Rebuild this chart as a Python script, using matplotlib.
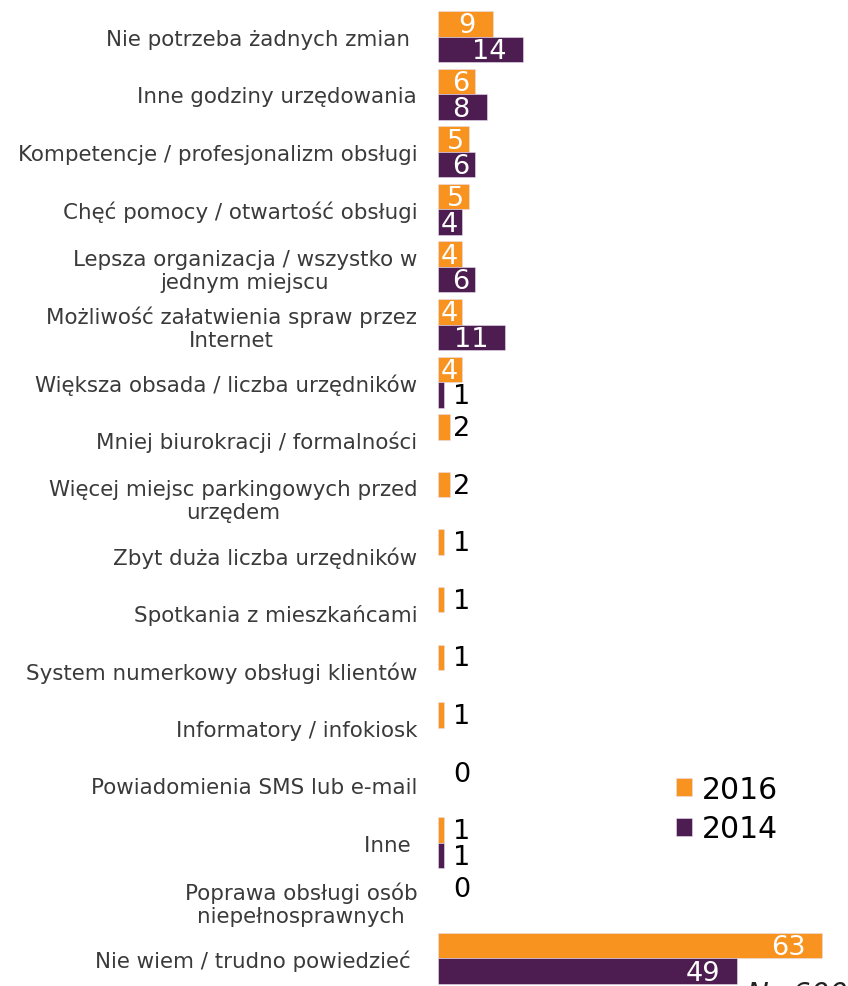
import matplotlib.pyplot as plt
import numpy as np

# ==================================================
# data

categories = [
    "Nie potrzeba żadnych zmian ",
    "Inne godziny urzędowania",
    "Kompetencje / profesjonalizm obsługi",
    "Chęć pomocy / otwartość obsługi",
    "Lepsza organizacja / wszystko w\njednym miejscu",
    "Możliwość załatwienia spraw przez\nInternet",
    "Większa obsada / liczba urzędników",
    "Mniej biurokracji / formalności",
    "Więcej miejsc parkingowych przed\nurzędem",
    "Zbyt duża liczba urzędników",
    "Spotkania z mieszkańcami",
    "System numerkowy obsługi klientów",
    "Informatory / infokiosk",
    "Powiadomienia SMS lub e-mail",
    "Inne ",
    "Poprawa obsługi osób\nniepełnosprawnych",
    "Nie wiem / trudno powiedzieć ",
]
nan = np.nan
values_2016 = [9, 6, 5, 5, 4, 4, 4, 2, 2, 1, 1, 1, 1, 0, 1, 0, 63]
values_2014 = [14, 8, 6, 4, 6, 11, 1, nan, nan, nan, nan, nan, nan, nan, 1, nan, 49]
series_names = ["2016", "2014"]
note = "N=600"

# ==================================================

ORANGE = "#F7931E"
PURPLE = "#4D1D52"
W, H = 848, 987
PX_PER_UNIT = 6.1
PITCH = 57.6
BAR_H = 0.443

fig = plt.figure(figsize=(W / 100, H / 100), dpi=100)
ax = fig.add_axes([438 / W, 0, 1 - 438 / W, 1])

n = len(categories)
y = np.arange(n)
ax.set_xlim(0, (W - 438) / PX_PER_UNIT)
ax.set_ylim((H - 37.5) / PITCH, -37.5 / PITCH)

bars = []
for vals, off, col in ((values_2016, -BAR_H / 2, ORANGE), (values_2014, BAR_H / 2, PURPLE)):
    vals = np.array(vals, dtype=float)
    mask = ~np.isnan(vals)
    lw = np.where(vals[mask] > 0, 0.4, 0)
    b = ax.barh(y[mask] + off, vals[mask], height=BAR_H, color=col,
                edgecolor="#e8dff0", linewidth=lw)
    bars.append(b)
    for yi, v in zip(y[mask], vals[mask]):
        if v >= 4:
            pad = 2.8 if v >= 7 else 0.8
            ax.text(v - pad, yi + off + 0.03, f"{v:.0f}", ha="right", va="center",
                    color="white", fontsize=19.5)
        else:
            ax.text(2.5, yi + off + 0.02, f"{v:.0f}", ha="left", va="center",
                    color="black", fontsize=19.5)

ax.set_yticks(y)
ax.set_yticklabels(categories, fontsize=15.4, color="#3a3a3a")
for lbl in ax.get_yticklabels():
    lbl.set_multialignment("center")
ax.tick_params(axis="y", length=0, pad=15)
ax.set_xticks([])
for s in ax.spines.values():
    s.set_visible(False)

ax.legend(bars, series_names, loc="upper left", bbox_to_anchor=(676 / W, 1 - 776 / H),
          bbox_transform=fig.transFigure, frameon=False, fontsize=21.5,
          handlelength=0.55, handleheight=0.55, handletextpad=0.3,
          labelspacing=0.35, borderpad=0, borderaxespad=0)

fig.text(746 / W, 6 / H, note, ha="left", va="top", fontsize=21,
         style="italic", color="#222222")

fig.savefig("out.png", dpi=100)
